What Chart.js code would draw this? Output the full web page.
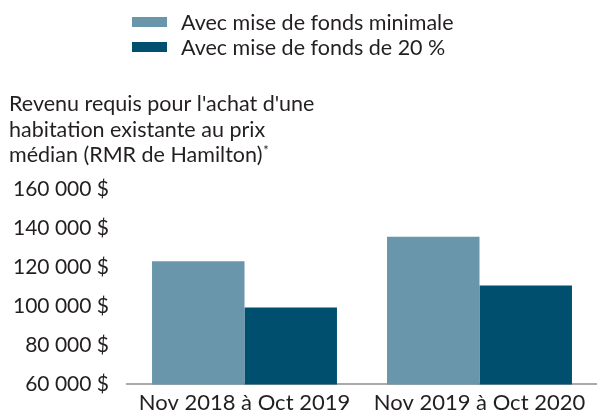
<!DOCTYPE html>
<html>
<head>
<meta charset="utf-8">
<script src="https://cdn.jsdelivr.net/npm/chart.js@4.4.0/dist/chart.umd.min.js"></script>
<style>
  html, body { margin: 0; padding: 0; background: #fff; overflow: hidden; }
  #wrap { width: 597px; height: 415px; position: relative; }
</style>
</head>
<body>
<div id="wrap"><canvas id="chart"></canvas></div>
<script>
// Données
const categories = ['Nov 2018 à Oct 2019', 'Nov 2019 à Oct 2020'];
const seriesLabels = ['Avec mise de fonds minimale', 'Avec mise de fonds de 20 %'];
const minimumValues = [123000, 135600];
const twentyPercentValues = [99400, 110600];
const titleLines = ["Revenu requis pour l'achat d'une", 'habitation existante au prix', 'médian (RMR de Hamilton)'];
const yTicks = [60000, 80000, 100000, 120000, 140000, 160000];

const colors = ['#6996aa', '#004f6e'];
const textColor = '#231f20';
const fontFamily = 'Lato, "Open Sans", sans-serif';

function formatMoney(v) {
    return String(v).replace(/\B(?=(\d{3})+(?!\d))/g, ' ') + ' $';
}

// Légende et titre dessinés à la main (deux lignes en haut, titre à gauche)
const headerPlugin = {
    id: 'header',
    afterDraw(chart) {
        const ctx = chart.ctx;
        ctx.save();
        ctx.font = '21.5px ' + fontFamily;
        ctx.textBaseline = 'middle';
        chart.data.datasets.forEach((ds, i) => {
            const y = 22 + i * 25;
            ctx.fillStyle = ds.backgroundColor;
            ctx.fillRect(132, y - 5, 35, 10);
            ctx.fillStyle = textColor;
            ctx.fillText(ds.label, 181, y + 1);
        });
        ctx.textBaseline = 'alphabetic';
        titleLines.forEach((line, i) => {
            ctx.fillText(line, 9, 111 + i * 25.5);
        });
        const last = titleLines[titleLines.length - 1];
        const w = ctx.measureText(last).width;
        ctx.font = '13px ' + fontFamily;
        ctx.fillText('*', 9 + w + 1, 111 + 2 * 25.5 - 7);
        ctx.restore();
    }
};

new Chart(document.getElementById('chart'), {
    type: 'bar',
    data: {
        labels: categories,
        datasets: [
            {
                label: seriesLabels[0],
                data: minimumValues,
                backgroundColor: colors[0]
            },
            {
                label: seriesLabels[1],
                data: twentyPercentValues,
                backgroundColor: colors[1]
            }
        ]
    },
    options: {
        responsive: true,
        maintainAspectRatio: false,
        animation: false,
        layout: { padding: { top: 189, right: 0, bottom: 0, left: 0 } },
        datasets: {
            bar: { categoryPercentage: 0.787, barPercentage: 1.0 }
        },
        scales: {
            x: {
                grid: { display: false, drawTicks: false },
                border: { display: true, color: '#aaaaaa', width: 2 },
                ticks: {
                    color: textColor,
                    font: { family: fontFamily, size: 22 },
                    padding: 5,
                    maxRotation: 0
                },
                afterFit(s) { s.height = 30; }
            },
            y: {
                min: 60000,
                max: 160000,
                grid: { display: false, drawTicks: false },
                border: { display: false },
                afterBuildTicks(s) { s.ticks = yTicks.map(v => ({ value: v })); },
                ticks: {
                    color: textColor,
                    font: { family: fontFamily, size: 21 },
                    padding: 18,
                    callback: v => formatMoney(v)
                },
                afterFit(s) { s.width = 127; }
            }
        },
        plugins: {
            legend: { display: false },
            title: { display: false },
            tooltip: { enabled: false }
        }
    },
    plugins: [headerPlugin]
});
</script>
</body>
</html>
